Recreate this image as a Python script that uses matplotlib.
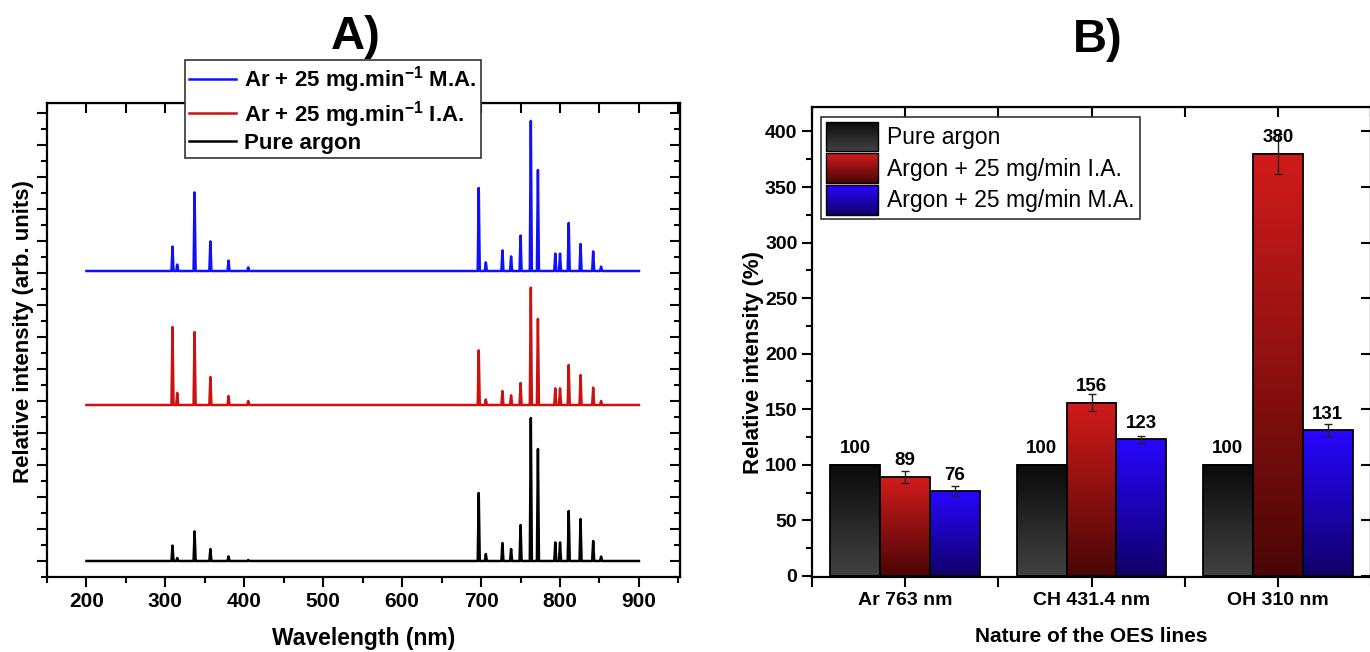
import matplotlib
matplotlib.use("Agg")
import matplotlib.pyplot as plt
import numpy as np
from matplotlib.ticker import MultipleLocator, FixedLocator
from matplotlib.legend_handler import HandlerBase
from matplotlib.patches import Rectangle
from matplotlib.colors import LinearSegmentedColormap

plt.rcParams['font.family'] = ['Liberation Sans', 'DejaVu Sans']
plt.rcParams['font.weight'] = 'bold'
plt.rcParams['axes.labelweight'] = 'bold'
plt.rcParams['mathtext.default'] = 'regular'

# ---- panel A: OES spectra (peak wavelength in nm, peak height in arb. units)
peak_nm = [309, 315, 337, 357, 380, 405, 697, 706, 727, 738, 750, 763, 772,
           794, 800, 811, 826, 842, 852]
pure_argon = [0.77, 0.15, 1.48, 0.60, 0.23, 0.05, 3.40, 0.35, 0.90, 0.60, 1.80,
              7.15, 5.60, 0.93, 0.93, 2.50, 2.10, 1.00, 0.22]
argon_ia = [3.90, 0.60, 3.65, 1.40, 0.45, 0.20, 2.73, 0.28, 0.70, 0.48, 1.10,
            5.87, 4.30, 0.83, 0.83, 2.00, 1.50, 0.87, 0.20]
argon_ma = [1.22, 0.32, 3.93, 1.48, 0.52, 0.18, 4.15, 0.43, 1.03, 0.73, 1.77,
            7.50, 5.05, 0.87, 0.87, 2.40, 1.35, 0.98, 0.22]
offsets = [0.0, 7.8, 14.5]   # vertical stacking of the three spectra
wl_range = [200, 900]

# ---- panel B: relative intensities (%)
line_names = ['Ar 763 nm', 'CH 431.4 nm', 'OH 310 nm']
pure_pct = [100, 100, 100]
ia_pct = [89, 156, 380]
ia_err = [5, 7.5, 18]
ma_pct = [76, 123, 131]
ma_err = [4.5, 3.2, 5.4]


def stick_trace(centers, heights, base, hw=1.3):
    xs, ys = [wl_range[0]], [base]
    for c, h in zip(centers, heights):
        xs += [c - hw, c, c + hw]
        ys += [base, base + h, base]
    xs.append(wl_range[1])
    ys.append(base)
    return xs, ys


W, H = 1370, 652
fig = plt.figure(figsize=(W / 100, H / 100), dpi=100, facecolor='white')

# ================= panel A =================
axA = fig.add_axes([47 / W, 1 - 577 / H, 633 / W, 474 / H])
for heights, off, col, lab in [(argon_ma, offsets[2], '#1010ff', 'Ar + 25 mg.min$^{-1}$ M.A.'),
                               (argon_ia, offsets[1], '#cc1111', 'Ar + 25 mg.min$^{-1}$ I.A.'),
                               (pure_argon, offsets[0], 'black', 'Pure argon')]:
    xs, ys = stick_trace(peak_nm, heights, off)
    axA.plot(xs, ys, color=col, lw=1.8, label=lab)

axA.set_xlim(150, 952)
axA.set_ylim(-0.8, 22.9)
axA.xaxis.set_major_locator(MultipleLocator(100))
axA.xaxis.set_minor_locator(MultipleLocator(50))
axA.yaxis.set_major_locator(MultipleLocator(1.6))
axA.yaxis.set_minor_locator(MultipleLocator(0.8))
axA.set_yticklabels([])
axA.tick_params(which='major', direction='out', length=7, width=1.5, labelsize=15)
axA.tick_params(which='minor', direction='out', length=4, width=1.5)
for s in axA.spines.values():
    s.set_linewidth(1.6)
# mirrored inward ticks on top / right
topA = axA.secondary_xaxis('top')
topA.xaxis.set_major_locator(MultipleLocator(50))
topA.tick_params(direction='in', labeltop=False, width=1.5, length=7)
rightA = axA.secondary_yaxis('right')
rightA.yaxis.set_major_locator(MultipleLocator(1.6))
rightA.yaxis.set_minor_locator(MultipleLocator(0.8))
rightA.tick_params(which='both', direction='in', labelright=False, width=1.5)
rightA.tick_params(which='major', length=7)
rightA.tick_params(which='minor', length=4)

axA.set_xlabel('Wavelength (nm)', fontsize=16.5)
axA.xaxis.set_label_coords(0.5, (577 - 639) / 474)
axA.xaxis.label.set_va('center')
axA.set_ylabel('Relative intensity (arb. units)', fontsize=16)
axA.yaxis.set_label_coords((24 - 47) / 633, (577 - 332) / 474)
axA.yaxis.label.set_va('center')
fig.text(356 / W, 1 - 37 / H, 'A)', fontsize=34, ha='center', va='center')

legA = axA.legend(loc='upper left', bbox_to_anchor=(185 / W, 1 - 60 / H),
                  bbox_transform=fig.transFigure, fontsize=16, frameon=True,
                  fancybox=False, framealpha=1, edgecolor='#333333',
                  handlelength=2.1, handletextpad=0.35, labelspacing=0.15,
                  borderpad=0.2, borderaxespad=0)
legA.get_frame().set_linewidth(1.2)

# ================= panel B =================
left_px, right_px = 812, 1371
axB = fig.add_axes([left_px / W, 1 - 577 / H, (right_px - left_px) / W, 470 / H])
x = np.arange(len(line_names))
bw = 0.268
grad_cols = {
    'pure': ('#414141', '#0a0a0a'),
    'ia': ('#4a0606', '#d21b1b'),
    'ma': ('#110068', '#2806ff'),
}
grad = np.linspace(0, 1, 256).reshape(-1, 1)
series = [(x - bw, pure_pct, None, 'pure', 'Pure argon'),
          (x, ia_pct, ia_err, 'ia', 'Argon + 25 mg/min I.A.'),
          (x + bw, ma_pct, ma_err, 'ma', 'Argon + 25 mg/min M.A.')]
leg_handles = []
for xpos, vals, errs, key, lab in series:
    bars = axB.bar(xpos, vals, bw, facecolor='none', edgecolor='black', lw=1.3, zorder=3, label=lab)
    cmap = LinearSegmentedColormap.from_list(key, grad_cols[key])
    for r in bars:
        axB.imshow(grad, extent=[r.get_x(), r.get_x() + r.get_width(), 0, r.get_height()],
                   origin='lower', aspect='auto', cmap=cmap, zorder=2)
    if errs is not None:
        axB.errorbar(xpos, vals, yerr=errs, fmt='none', ecolor='#222222', elinewidth=1,
                     capsize=3, capthick=1, zorder=4)
    for xx, v in zip(xpos, vals):
        axB.text(xx, v + 14.5, str(v), ha='center', va='center', fontsize=13.5, zorder=5)
    leg_handles.append((bars, key, lab))

axB.set_xlim(-0.5, 2.5)
axB.set_ylim(-1, 422)
axB.set_xticks(x)
axB.set_xticklabels(line_names)
axB.xaxis.set_minor_locator(FixedLocator([-0.5, 0.5, 1.5, 2.5]))
axB.yaxis.set_major_locator(MultipleLocator(50))
axB.yaxis.set_minor_locator(MultipleLocator(25))
axB.tick_params(which='both', direction='out', width=1.5, labelsize=14)
axB.tick_params(which='major', length=7)
axB.tick_params(which='minor', length=4)
axB.tick_params(axis='x', which='both', length=7)
for s in axB.spines.values():
    s.set_linewidth(1.6)
topB = axB.secondary_xaxis('top')
topB.xaxis.set_major_locator(FixedLocator([-0.5, 0, 0.5, 1, 1.5, 2, 2.5]))
topB.tick_params(direction='in', length=7, width=1.5, labeltop=False)
rightB = axB.secondary_yaxis('right')
rightB.yaxis.set_major_locator(MultipleLocator(50))
rightB.tick_params(direction='in', length=7, width=1.5, labelright=False)

axB.set_xlabel('Nature of the OES lines', fontsize=15)
axB.xaxis.set_label_coords(0.5, (577 - 637) / 470)
axB.xaxis.label.set_va('center')
axB.set_ylabel('Relative intensity (%)', fontsize=16)
axB.yaxis.set_label_coords((754 - 812) / 559, (577 - 362) / 470)
axB.yaxis.label.set_va('center')
fig.text(1098 / W, 1 - 40 / H, 'B)', fontsize=34, ha='center', va='center')


class GradientHandler(HandlerBase):
    def __init__(self, colors):
        super().__init__()
        self.colors = colors

    def create_artists(self, legend, orig_handle, xdescent, ydescent, width, height, fontsize, trans):
        cm = LinearSegmentedColormap.from_list('h', self.colors)
        n = 30
        arts = []
        for i in range(n):
            arts.append(Rectangle((-xdescent, -ydescent + height * i / n), width, height / n * 1.05,
                                  facecolor=cm(i / (n - 1)), edgecolor='none', transform=trans))
        arts.append(Rectangle((-xdescent, -ydescent), width, height, facecolor='none',
                              edgecolor='black', lw=1.0, transform=trans))
        return arts


legB = axB.legend([h[0] for h in leg_handles], [h[2] for h in leg_handles],
                  handler_map={h[0]: GradientHandler(grad_cols[h[1]]) for h in leg_handles},
                  loc='upper left', bbox_to_anchor=(821 / W, 1 - 117 / H),
                  bbox_transform=fig.transFigure, frameon=True, fancybox=False,
                  framealpha=1, edgecolor='#333333', borderpad=0.2, borderaxespad=0,
                  handlelength=2.3, handleheight=1.6, handletextpad=0.4, labelspacing=0.1,
                  prop={'family': ['Liberation Sans', 'DejaVu Sans'], 'weight': 'normal', 'size': 16.5})
legB.get_frame().set_linewidth(1.2)

fig.savefig('out.png', dpi=100)
